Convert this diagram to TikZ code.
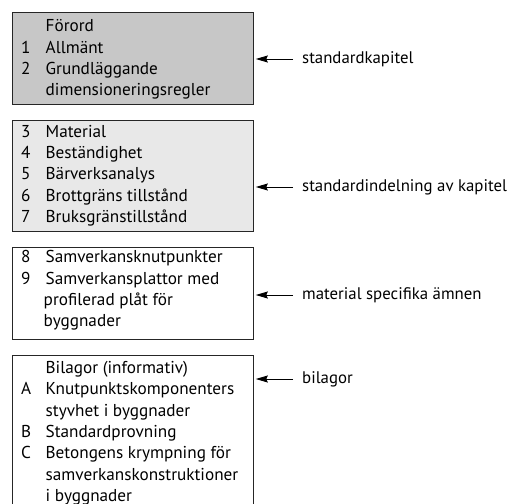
\documentclass[tikz,border=0pt]{standalone}
\usepackage{fontspec}
\setmainfont{PT Sans}
\usetikzlibrary{arrows.meta}
\definecolor{kapgrau}{gray}{0.78}
\definecolor{kaphell}{gray}{0.91}

\begin{document}
\begin{tikzpicture}[x=1pt,y=-1pt]
              \tikzstyle{every node}+=[inner sep=0pt, font=\fontsize{17.2}{21.3}\selectfont]
              \tikzstyle{ruta}=[draw=black!85, line width=1.1pt, minimum width=240.4pt, anchor=north west]
              \tikzstyle{lista}=[anchor=base west, align=left]
              \tikzstyle{etikett}=[anchor=west, inner xsep=9pt, text height=12pt, text depth=3.5pt, font=\fontsize{16.8}{21}\selectfont]
              \tikzstyle{pil}=[line width=0.9pt, -{Stealth[length=12pt,width=7pt,inset=1.5pt]}, shorten >=2pt]
              \useasboundingbox (0,0) rectangle (510,503);
              \clip (0,0) rectangle (510,503);
              % rutorna
              \node [ruta, fill=kapgrau, minimum height=92pt] (kap1) at (12.3,12) {};
              \node [ruta, fill=kaphell, minimum height=111pt] (kap2) at (12.3,120) {};
              \node [ruta, fill=white, minimum height=92pt] (kap3) at (12.3,247) {};
              \node [ruta, fill=white, minimum height=170pt] (kap4) at (12.3,355) {};
              % texterna
              \node [lista] (lista1) at (21,32) {\begin{tabular}[t]{@{}p{24.5pt}@{}l@{}}
                & Förord\\ 1 & Allmänt\\ 2 & Grundläggande\\ & dimensioneringsregler\end{tabular}};
              \node [lista] (lista2) at (21,137.3) {\begin{tabular}[t]{@{}p{24.5pt}@{}l@{}}
                3 & Material\\ 4 & Beständighet\\ 5 & Bärverksanalys\\ 6 & Brottgräns tillstånd\\ 7 & Bruksgränstillstånd\end{tabular}};
              \node [lista] (lista3) at (21,262.7) {\begin{tabular}[t]{@{}p{24.5pt}@{}l@{}}
                8 & Samverkansknutpunkter\\ 9 & Samverkansplattor med\\ & \hspace{-2pt}profilerad plåt för\\ & \hspace{-2pt}byggnader\end{tabular}};
              \node [lista] (lista4) at (21,373.5) {\begin{tabular}[t]{@{}p{24.5pt}@{}l@{}}
                & Bilagor (informativ)\\ A & Knutpunktskomponenters\\ & styvhet i byggnader\\ B & Standardprovning\\
                C & Betongens krympning för\\ & samverkanskonstruktioner\\ & i byggnader\end{tabular}};
              % etiketter och pilar
              \node [etikett] (lab1) at (293,59) {standardkapitel};
              \node [etikett] (lab2) at (293,187) {standardindelning av kapitel};
              \node [etikett] (lab3) at (293,295) {material specifika ämnen};
              \node [etikett] (lab4) at (293,379) {bilagor};
              \draw [pil] (lab1) -- (lab1 -| kap1.east);
              \draw [pil] (lab2) -- (lab2 -| kap2.east);
              \draw [pil] (lab3) -- (lab3 -| kap3.east);
              \draw [pil] (lab4) -- (lab4 -| kap4.east);
            \end{tikzpicture}
\end{document}
